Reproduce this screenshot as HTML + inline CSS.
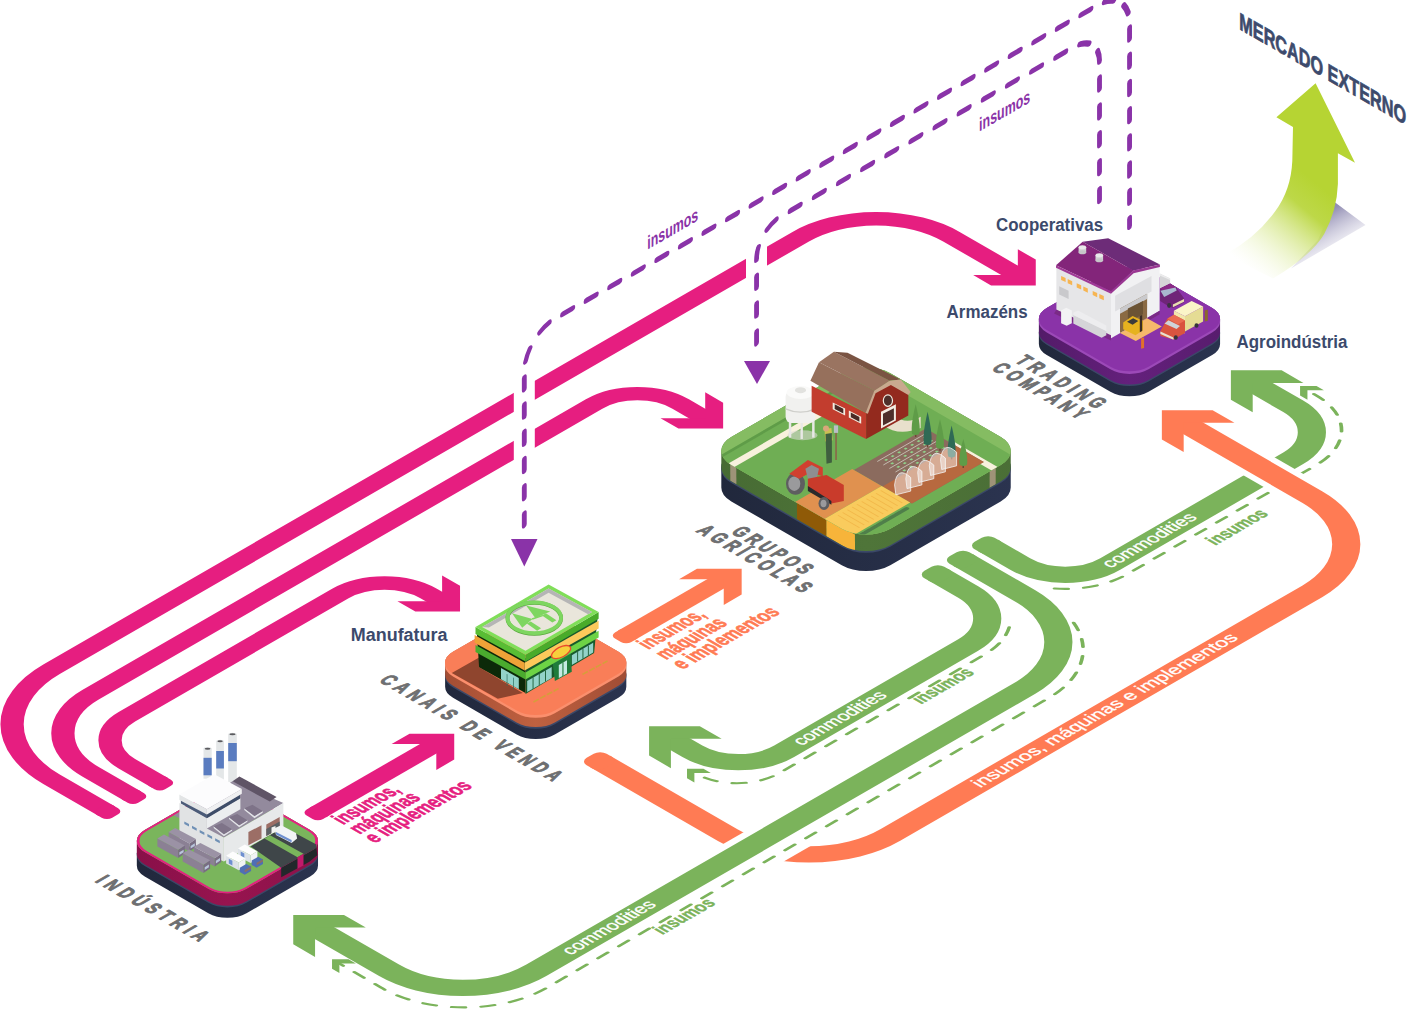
<!DOCTYPE html>
<html><head><meta charset="utf-8"><title>Cadeia</title>
<style>
html,body{margin:0;padding:0;background:#fff;}
body{width:1412px;height:1009px;position:relative;overflow:hidden;font-family:"Liberation Sans",sans-serif;}
text{font-family:"Liberation Sans",sans-serif;}
</style></head><body>
<svg width="1412" height="1009" viewBox="0 0 1412 1009" style="position:absolute;left:0;top:0">
<g transform="matrix(0.8660254 0.5 -0.8660254 0.5 0 0)">
<path d="M 873 749.5 L 809 749.5 A 110 110 0 0 1 699 639.5 L 699 -225.60000000000002 A 87 87 0 0 1 786 -312.6 L 866 -312.6" fill="none" stroke="#e61e80" stroke-width="19" stroke-linecap="butt"/>
<rect x="864.9" y="740.0" width="17.6" height="19.0" rx="6.1" fill="#e61e80"/>
<polygon points="0.0,0.0 -25.8,-25.8 -46.5,-25.8 -20.7,0.0 -46.5,25.8 -25.8,25.8" fill="#e61e80" transform="translate(883.4 -312.6) rotate(0)"/>
<path d="M 873 719.5 L 824 719.5 A 77 77 0 0 1 747 642.5 L 747 61 A 50 50 0 0 1 797 11 L 826.8 11" fill="none" stroke="#e61e80" stroke-width="19" stroke-linecap="butt"/>
<rect x="864.9" y="710.0" width="17.6" height="19.0" rx="6.1" fill="#e61e80"/>
<polygon points="0.0,0.0 -25.8,-25.8 -46.5,-25.8 -20.7,0.0 -46.5,25.8 -25.8,25.8" fill="#e61e80" transform="translate(846.0 11.0) rotate(0)"/>
<path d="M 875 690.5 L 837 690.5 A 47 47 0 0 1 790 643.5 L 790 397 A 51 51 0 0 1 841 346 L 859 346" fill="none" stroke="#e61e80" stroke-width="19" stroke-linecap="butt"/>
<rect x="866.9" y="681.0" width="17.6" height="19.0" rx="6.1" fill="#e61e80"/>
<polygon points="0.0,0.0 -25.8,-25.8 -46.5,-25.8 -20.7,0.0 -46.5,25.8 -25.8,25.8" fill="#e61e80" transform="translate(877.2 346.0) rotate(0)"/>
<path d="M 996 629 L 996 490" fill="none" stroke="#e61e80" stroke-width="19" stroke-linecap="butt"/>
<rect x="986.5" y="620.9" width="19.0" height="17.6" rx="6.1" fill="#e61e80"/>
<polygon points="0.0,0.0 -25.8,-25.8 -46.5,-25.8 -20.7,0.0 -46.5,25.8 -25.8,25.8" fill="#e61e80" transform="translate(996.0 471.5) rotate(270)"/>
<path d="M 997 274 L 997 159" fill="none" stroke="#ff7b54" stroke-width="19" stroke-linecap="butt"/>
<rect x="987.5" y="265.9" width="19.0" height="17.6" rx="6.1" fill="#ff7b54"/>
<polygon points="0.0,0.0 -25.8,-25.8 -46.5,-25.8 -20.7,0.0 -46.5,25.8 -25.8,25.8" fill="#ff7b54" transform="translate(997.0 140.6) rotate(270)"/>
<path d="M 1116 -25 L 1153 -25 A 52 52 0 0 0 1205 -77 L 1205 -288.3 A 52 52 0 0 0 1153 -340.3 L 1103 -340.3" fill="none" stroke="#7bb35b" stroke-width="23" stroke-linecap="butt"/>
<rect x="1104.5" y="-36.5" width="20.9" height="23.0" rx="7.4" fill="#7bb35b"/>
<polygon points="0.0,0.0 -29.3,-29.3 -54.5,-29.3 -25.2,0.0 -54.5,29.3 -29.3,29.3" fill="#7bb35b" transform="translate(1081.0 -340.3) rotate(180)"/>
<path d="M 1197.3 -20.3 A 72 72 0 0 0 1225 -77 L 1225 -295.5 A 69 69 0 0 0 1156 -364.5 L 1146 -364.5" fill="none" stroke="#7bb35b" stroke-width="3" stroke-linecap="round" stroke-dasharray="11.3 12.7" stroke-dashoffset="0"/>
<polygon points="0.0,0.0 -9.5,-9.5 -18.0,-9.5 -8.5,0.0 -18.0,9.5 -9.5,9.5" fill="#7bb35b" transform="translate(1136.7 -364.5) rotate(180)"/>
<path d="M 1170 -260.6 L 1255 -260.6" fill="none" stroke="#fff" stroke-width="36" stroke-linecap="butt"/>
<path d="M 1108 415 L 1255 415 A 94 94 0 0 0 1349 321 L 1349 -166.60000000000002 A 94 94 0 0 0 1255 -260.6 L 1103 -260.6" fill="none" stroke="#ff7b54" stroke-width="23" stroke-linecap="butt"/>
<rect x="1096.5" y="403.5" width="20.9" height="23.0" rx="7.4" fill="#ff7b54"/>
<polygon points="0.0,0.0 -29.3,-29.3 -54.5,-29.3 -25.2,0.0 -54.5,29.3 -29.3,29.3" fill="#ff7b54" transform="translate(1081.0 -260.6) rotate(180)"/>
<rect x="1261.5" y="365" width="52.5" height="70" fill="#fff"/>
<path d="M 1116 33 L 1151 33 A 53 53 0 0 1 1204 86 L 1204 298.5 A 53 53 0 0 1 1151 351.5 L 1123 351.5" fill="none" stroke="#7bb35b" stroke-width="23" stroke-linecap="butt"/>
<rect x="1104.5" y="21.5" width="20.9" height="23.0" rx="7.4" fill="#7bb35b"/>
<polygon points="0.0,0.0 -29.3,-29.3 -54.5,-29.3 -25.2,0.0 -54.5,29.3 -29.3,29.3" fill="#7bb35b" transform="translate(1101.0 351.5) rotate(180)"/>
<path d="M 1210.0 44.7 A 72 72 0 0 1 1223 86 L 1223 323.1 A 49 49 0 0 1 1174 372.1 L 1174.5 372.1" fill="none" stroke="#7bb35b" stroke-width="3" stroke-linecap="round" stroke-dasharray="11.3 12.7" stroke-dashoffset="0"/>
<polygon points="0.0,0.0 -9.5,-9.5 -18.0,-9.5 -8.5,0.0 -18.0,9.5 -9.5,9.5" fill="#7bb35b" transform="translate(1165.4 372.1) rotate(180)"/>
<path d="M 1116 4 L 1188 4 A 92 92 0 0 1 1280 96 L 1280 660.7 A 85 85 0 0 1 1195 745.7 L 1106.6 745.7" fill="none" stroke="#7bb35b" stroke-width="23" stroke-linecap="butt"/>
<rect x="1104.5" y="-7.5" width="20.9" height="23.0" rx="7.4" fill="#7bb35b"/>
<polygon points="0.0,0.0 -29.3,-29.3 -54.5,-29.3 -25.2,0.0 -54.5,29.3 -29.3,29.3" fill="#7bb35b" transform="translate(1084.3 745.7) rotate(180)"/>
<path d="M 1242.6 2.9 A 97.3 97.3 0 0 1 1303.5 93.1 L 1303.5 671.6 A 96 96 0 0 1 1207.5 767.6 L 1160 767.6" fill="none" stroke="#7bb35b" stroke-width="3" stroke-linecap="round" stroke-dasharray="11.3 12.7" stroke-dashoffset="0"/>
<polygon points="0.0,0.0 -9.5,-9.5 -18.0,-9.5 -8.5,0.0 -18.0,9.5 -9.5,9.5" fill="#7bb35b" transform="translate(1151.0 767.6) rotate(180)"/>
<text transform="translate(935.8 827.0) rotate(0) scale(0.7 1)" font-size="21" fill="#6e6f71" font-weight="bold" text-anchor="start" stroke="#6e6f71" stroke-width="1.2" stroke-linejoin="round" textLength="172.9" lengthAdjust="spacing">INDÚSTRIA</text>
<text transform="translate(899.4 462.5) rotate(0) scale(0.7 1)" font-size="21" fill="#6e6f71" font-weight="bold" text-anchor="start" stroke="#6e6f71" stroke-width="1.2" stroke-linejoin="round" textLength="287.1" lengthAdjust="spacing">CANAIS DE VENDA</text>
<text transform="translate(954.1 111.0) rotate(0) scale(0.7 1)" font-size="21" fill="#6e6f71" font-weight="bold" text-anchor="start" stroke="#6e6f71" stroke-width="1.2" stroke-linejoin="round" textLength="120.0" lengthAdjust="spacing">GRUPOS</text>
<text transform="translate(932.7 130.0) rotate(0) scale(0.7 1)" font-size="21" fill="#6e6f71" font-weight="bold" text-anchor="start" stroke="#6e6f71" stroke-width="1.2" stroke-linejoin="round" textLength="176.4" lengthAdjust="spacing">AGRÍCOLAS</text>
<text transform="translate(946.8 -224.0) rotate(0) scale(0.7 1)" font-size="21" fill="#6e6f71" font-weight="bold" text-anchor="start" stroke="#6e6f71" stroke-width="1.2" stroke-linejoin="round" textLength="135.7" lengthAdjust="spacing">TRADING</text>
<text transform="translate(940.9 -203.0) rotate(0) scale(0.7 1)" font-size="21" fill="#6e6f71" font-weight="bold" text-anchor="start" stroke="#6e6f71" stroke-width="1.2" stroke-linejoin="round" textLength="144.3" lengthAdjust="spacing">COMPANY</text>
<text transform="translate(1023.0 627.0) rotate(-90)" font-size="22" fill="#e61e80" font-weight="bold" text-anchor="start" stroke="#e61e80" stroke-width="0.7" stroke-linejoin="round" textLength="68.0" lengthAdjust="spacingAndGlyphs">insumos,</text>
<text transform="translate(1042.0 627.0) rotate(-90)" font-size="22" fill="#e61e80" font-weight="bold" text-anchor="start" stroke="#e61e80" stroke-width="0.7" stroke-linejoin="round" textLength="72.0" lengthAdjust="spacingAndGlyphs">máquinas</text>
<text transform="translate(1060.0 627.0) rotate(-90)" font-size="22" fill="#e61e80" font-weight="bold" text-anchor="start" stroke="#e61e80" stroke-width="0.7" stroke-linejoin="round" textLength="113.5" lengthAdjust="spacingAndGlyphs">e implementos</text>
<text transform="translate(1024.0 275.5) rotate(-90)" font-size="22" fill="#ff7b54" font-weight="bold" text-anchor="start" stroke="#ff7b54" stroke-width="0.7" stroke-linejoin="round" textLength="68.0" lengthAdjust="spacingAndGlyphs">insumos,</text>
<text transform="translate(1044.5 275.5) rotate(-90)" font-size="22" fill="#ff7b54" font-weight="bold" text-anchor="start" stroke="#ff7b54" stroke-width="0.7" stroke-linejoin="round" textLength="72.0" lengthAdjust="spacingAndGlyphs">máquinas</text>
<text transform="translate(1064.0 275.5) rotate(-90)" font-size="22" fill="#ff7b54" font-weight="bold" text-anchor="start" stroke="#ff7b54" stroke-width="0.7" stroke-linejoin="round" textLength="113.5" lengthAdjust="spacingAndGlyphs">e implementos</text>
<text transform="translate(1208.8 283.4) rotate(-90)" font-size="18" fill="#fff" font-weight="normal" text-anchor="start" stroke="#fff" stroke-width="0.35" stroke-linejoin="round" textLength="100.0" lengthAdjust="spacingAndGlyphs">commodities</text>
<text transform="translate(1284.8 626.0) rotate(-90)" font-size="18" fill="#fff" font-weight="normal" text-anchor="start" stroke="#fff" stroke-width="0.35" stroke-linejoin="round" textLength="100.0" lengthAdjust="spacingAndGlyphs">commodities</text>
<text transform="translate(1209.8 -72.6) rotate(-90)" font-size="18" fill="#fff" font-weight="normal" text-anchor="start" stroke="#fff" stroke-width="0.35" stroke-linejoin="round" textLength="101.0" lengthAdjust="spacingAndGlyphs">commodities</text>
<text transform="translate(1353.8 222.0) rotate(-90)" font-size="18" fill="#fff" font-weight="normal" text-anchor="start" stroke="#fff" stroke-width="0.35" stroke-linejoin="round" textLength="299.0" lengthAdjust="spacingAndGlyphs">insumos, máquinas e implementos</text>
<text transform="translate(1236.3 172.7) rotate(-90)" font-size="19" fill="#7bb35b" font-weight="bold" text-anchor="start" stroke="#7bb35b" stroke-width="0.5" stroke-linejoin="round" textLength="62.5" lengthAdjust="spacingAndGlyphs">insumos</text>
<text transform="translate(1317.5 552.7) rotate(-90)" font-size="19" fill="#7bb35b" font-weight="bold" text-anchor="start" stroke="#7bb35b" stroke-width="0.5" stroke-linejoin="round" textLength="62.5" lengthAdjust="spacingAndGlyphs">insumos</text>
<text transform="translate(1247.3 -156.0) rotate(-90)" font-size="19" fill="#7bb35b" font-weight="bold" text-anchor="start" stroke="#7bb35b" stroke-width="0.5" stroke-linejoin="round" textLength="62.5" lengthAdjust="spacingAndGlyphs">insumos</text>
<defs><linearGradient id="g1n" gradientUnits="userSpaceOnUse" x1="913.5" y1="768.5" x2="1031.0" y2="651.0"><stop offset="0.00" stop-color="#20273b"/><stop offset="1.00" stop-color="#2b3450"/></linearGradient><linearGradient id="g1s" gradientUnits="userSpaceOnUse" x1="913.5" y1="768.5" x2="1031.0" y2="651.0"><stop offset="0.00" stop-color="#870f48"/><stop offset="0.50" stop-color="#97144f"/><stop offset="1.00" stop-color="#8c1149"/></linearGradient></defs>
<path d="M 926.05 685.45 A 22 22 0 0 1 948.05 663.45 L 1021.55 663.45 A 22 22 0 0 1 1037.11 669.89 L 1049.11 681.89 A 22 22 0 0 1 1055.55 697.45 L 1055.55 770.95 A 22 22 0 0 1 1033.55 792.95 L 960.05 792.95 A 22 22 0 0 1 944.49 786.51 L 932.49 774.51 A 22 22 0 0 1 926.05 758.95 Z" fill="url(#g1n)"/>
<path d="M 926.05 685.45 A 22 22 0 0 1 948.05 663.45 L 1021.55 663.45 A 22 22 0 0 1 1037.11 669.89 L 1038.71 671.49 A 22 22 0 0 1 1045.15 687.05 L 1045.15 760.55 A 22 22 0 0 1 1023.15 782.55 L 949.65 782.55 A 22 22 0 0 1 934.09 776.11 L 932.49 774.51 A 22 22 0 0 1 926.05 758.95 Z" fill="#3b4868"/>
<path d="M 913.55 672.95 A 22 22 0 0 1 935.55 650.95 L 1009.05 650.95 A 22 22 0 0 1 1024.61 657.39 L 1037.11 669.89 A 22 22 0 0 1 1043.55 685.45 L 1043.55 758.95 A 22 22 0 0 1 1021.55 780.95 L 948.05 780.95 A 22 22 0 0 1 932.49 774.51 L 919.99 762.01 A 22 22 0 0 1 913.55 746.45 Z" fill="url(#g1s)"/>
<rect x="913.55" y="650.95" width="117.50" height="117.50" rx="22" ry="22" fill="#7ab55c" />
<rect x="914.65" y="652.05" width="115.30" height="115.30" rx="20.9" ry="20.9" fill="none" stroke="#e61e80" stroke-width="2.2"/>
<defs><linearGradient id="g2n" gradientUnits="userSpaceOnUse" x1="913.4" y1="412.2" x2="1030.8" y2="294.8"><stop offset="0.00" stop-color="#20273b"/><stop offset="1.00" stop-color="#2b3450"/></linearGradient><linearGradient id="g2s" gradientUnits="userSpaceOnUse" x1="913.4" y1="412.2" x2="1030.8" y2="294.8"><stop offset="0.00" stop-color="#a04b32"/><stop offset="0.50" stop-color="#bf6140"/><stop offset="1.00" stop-color="#9c4a33"/></linearGradient></defs>
<path d="M 925.35 328.75 A 22 22 0 0 1 947.35 306.75 L 1020.85 306.75 A 22 22 0 0 1 1036.41 313.19 L 1048.41 325.19 A 22 22 0 0 1 1054.85 340.75 L 1054.85 414.25 A 22 22 0 0 1 1032.85 436.25 L 959.35 436.25 A 22 22 0 0 1 943.79 429.81 L 931.79 417.81 A 22 22 0 0 1 925.35 402.25 Z" fill="url(#g2n)"/>
<path d="M 925.35 328.75 A 22 22 0 0 1 947.35 306.75 L 1020.85 306.75 A 22 22 0 0 1 1036.41 313.19 L 1038.01 314.79 A 22 22 0 0 1 1044.45 330.35 L 1044.45 403.85 A 22 22 0 0 1 1022.45 425.85 L 948.95 425.85 A 22 22 0 0 1 933.39 419.41 L 931.79 417.81 A 22 22 0 0 1 925.35 402.25 Z" fill="#3b4868"/>
<path d="M 913.35 316.75 A 22 22 0 0 1 935.35 294.75 L 1008.85 294.75 A 22 22 0 0 1 1024.41 301.19 L 1036.41 313.19 A 22 22 0 0 1 1042.85 328.75 L 1042.85 402.25 A 22 22 0 0 1 1020.85 424.25 L 947.35 424.25 A 22 22 0 0 1 931.79 417.81 L 919.79 405.81 A 22 22 0 0 1 913.35 390.25 Z" fill="url(#g2s)"/>
<path d="M 913.35 316.75 A 22 22 0 0 1 935.35 294.75 L 1008.85 294.75 A 22 22 0 0 1 1024.41 301.19 L 1027.01 303.79 A 22 22 0 0 1 1033.45 319.35 L 1033.45 392.85 A 22 22 0 0 1 1011.45 414.85 L 937.95 414.85 A 22 22 0 0 1 922.39 408.41 L 919.79 405.81 A 22 22 0 0 1 913.35 390.25 Z" fill="#fb8f6d"/>
<rect x="913.35" y="294.75" width="117.50" height="117.50" rx="22" ry="22" fill="#f97e58" />
<defs><linearGradient id="g3n" gradientUnits="userSpaceOnUse" x1="912.4" y1="-274.4" x2="1029.8" y2="-391.9"><stop offset="0.00" stop-color="#20273b"/><stop offset="1.00" stop-color="#2b3450"/></linearGradient><linearGradient id="g3s" gradientUnits="userSpaceOnUse" x1="912.4" y1="-274.4" x2="1029.8" y2="-391.9"><stop offset="0.00" stop-color="#511a66"/><stop offset="0.50" stop-color="#64207c"/><stop offset="1.00" stop-color="#561c6c"/></linearGradient></defs>
<path d="M 925.55 -356.65 A 22 22 0 0 1 947.55 -378.65 L 1021.05 -378.65 A 22 22 0 0 1 1036.61 -372.21 L 1048.41 -360.41 A 22 22 0 0 1 1054.85 -344.85 L 1054.85 -271.35 A 22 22 0 0 1 1032.85 -249.35 L 959.35 -249.35 A 22 22 0 0 1 943.79 -255.79 L 931.99 -267.59 A 22 22 0 0 1 925.55 -283.15 Z" fill="url(#g3n)"/>
<path d="M 925.55 -356.65 A 22 22 0 0 1 947.55 -378.65 L 1021.05 -378.65 A 22 22 0 0 1 1036.61 -372.21 L 1038.21 -370.61 A 22 22 0 0 1 1044.65 -355.05 L 1044.65 -281.55 A 22 22 0 0 1 1022.65 -259.55 L 949.15 -259.55 A 22 22 0 0 1 933.59 -265.99 L 931.99 -267.59 A 22 22 0 0 1 925.55 -283.15 Z" fill="#3b4868"/>
<path d="M 912.35 -369.85 A 22 22 0 0 1 934.35 -391.85 L 1007.85 -391.85 A 22 22 0 0 1 1023.41 -385.41 L 1036.61 -372.21 A 22 22 0 0 1 1043.05 -356.65 L 1043.05 -283.15 A 22 22 0 0 1 1021.05 -261.15 L 947.55 -261.15 A 22 22 0 0 1 931.99 -267.59 L 918.79 -280.79 A 22 22 0 0 1 912.35 -296.35 Z" fill="url(#g3s)"/>
<path d="M 912.35 -369.85 A 22 22 0 0 1 934.35 -391.85 L 1007.85 -391.85 A 22 22 0 0 1 1023.41 -385.41 L 1026.01 -382.81 A 22 22 0 0 1 1032.45 -367.25 L 1032.45 -293.75 A 22 22 0 0 1 1010.45 -271.75 L 936.95 -271.75 A 22 22 0 0 1 921.39 -278.19 L 918.79 -280.79 A 22 22 0 0 1 912.35 -296.35 Z" fill="#9c49b8"/>
<rect x="912.35" y="-391.85" width="117.50" height="117.50" rx="22" ry="22" fill="#8a33a8" />
<defs><linearGradient id="g4n" gradientUnits="userSpaceOnUse" x1="859.2" y1="42.8" x2="1042.8" y2="-140.8"><stop offset="0.00" stop-color="#20273b"/><stop offset="1.00" stop-color="#2b3450"/></linearGradient><linearGradient id="g4s" gradientUnits="userSpaceOnUse" x1="859.2" y1="42.8" x2="1042.8" y2="-140.8"><stop offset="0.00" stop-color="#466a33"/><stop offset="0.50" stop-color="#4f7539"/><stop offset="1.00" stop-color="#4a6e36"/></linearGradient></defs>
<path d="M 875.75 -96.25 A 28 28 0 0 1 903.75 -124.25 L 1031.25 -124.25 A 28 28 0 0 1 1051.05 -116.05 L 1071.05 -96.05 A 28 28 0 0 1 1079.25 -76.25 L 1079.25 51.25 A 28 28 0 0 1 1051.25 79.25 L 923.75 79.25 A 28 28 0 0 1 903.95 71.05 L 883.95 51.05 A 28 28 0 0 1 875.75 31.25 Z" fill="url(#g4n)"/>
<path d="M 875.75 -96.25 A 28 28 0 0 1 903.75 -124.25 L 1031.25 -124.25 A 28 28 0 0 1 1051.05 -116.05 L 1052.65 -114.45 A 28 28 0 0 1 1060.85 -94.65 L 1060.85 32.85 A 28 28 0 0 1 1032.85 60.85 L 905.35 60.85 A 28 28 0 0 1 885.55 52.65 L 883.95 51.05 A 28 28 0 0 1 875.75 31.25 Z" fill="#3b4868"/>
<path d="M 859.25 -112.75 A 28 28 0 0 1 887.25 -140.75 L 1014.75 -140.75 A 28 28 0 0 1 1034.55 -132.55 L 1051.05 -116.05 A 28 28 0 0 1 1059.25 -96.25 L 1059.25 31.25 A 28 28 0 0 1 1031.25 59.25 L 903.75 59.25 A 28 28 0 0 1 883.95 51.05 L 867.45 34.55 A 28 28 0 0 1 859.25 14.75 Z" fill="url(#g4s)"/>
<rect x="859.25" y="-140.75" width="183.50" height="183.50" rx="28" ry="28" fill="#82ba60" />
<defs><clipPath id="gtop"><rect x="859.25" y="-140.75" width="183.50" height="183.50" rx="28" ry="28" /></clipPath><clipPath id="gside"><path d="M 859.25 -112.75 A 28 28 0 0 1 887.25 -140.75 L 1014.75 -140.75 A 28 28 0 0 1 1034.55 -132.55 L 1051.05 -116.05 A 28 28 0 0 1 1059.25 -96.25 L 1059.25 31.25 A 28 28 0 0 1 1031.25 59.25 L 903.75 59.25 A 28 28 0 0 1 883.95 51.05 L 867.45 34.55 A 28 28 0 0 1 859.25 14.75 Z"/></clipPath></defs>
<g clip-path="url(#gside)">
<polygon points="884.0,40.8 891.0,40.8 909.5,59.2 902.5,59.2" fill="#9e9378"/>
<polygon points="961.0,40.8 995.0,40.8 1013.5,59.2 979.5,59.2" fill="#8f5a07"/>
<polygon points="995.0,40.8 1028.0,40.8 1046.5,59.2 1013.5,59.2" fill="#f7b43a"/>
<polygon points="1040.8,-109.0 1040.8,-102.0 1059.2,-83.5 1059.2,-90.5" fill="#9e9378"/>
</g>
<rect x="859.25" y="-140.75" width="183.50" height="183.50" rx="28" ry="28" fill="#85bc62"/>
<g clip-path="url(#gtop)">
<rect x="871.2" y="-128.8" width="183.5" height="183.5" rx="20" fill="#6fae54"/>
<path d="M 872.8 -100.8 L 872.8 42.8" stroke="#5f9c48" stroke-width="3" fill="none"/>
<rect x="884" y="-75" width="7" height="125" fill="#f8f1dd"/>
<rect x="990" y="-109" width="60" height="7" fill="#f8f1dd"/>
<rect x="963" y="-106" width="67" height="83" fill="#8b6b5e"/>
<rect x="996" y="-106" width="34" height="83" fill="#b7693f"/>
<rect x="961" y="-23" width="34" height="70" fill="#e0914f"/>
<rect x="995" y="-23" width="33" height="70" fill="#f9cb5d"/>
<line x1="999" y1="-18.0" x2="1024" y2="-18.0" stroke="#f2b84a" stroke-width="1"/>
<line x1="999" y1="-12.5" x2="1024" y2="-12.5" stroke="#f2b84a" stroke-width="1"/>
<line x1="999" y1="-7.0" x2="1024" y2="-7.0" stroke="#f2b84a" stroke-width="1"/>
<line x1="999" y1="-1.5" x2="1024" y2="-1.5" stroke="#f2b84a" stroke-width="1"/>
<line x1="999" y1="4.0" x2="1024" y2="4.0" stroke="#f2b84a" stroke-width="1"/>
<line x1="999" y1="9.5" x2="1024" y2="9.5" stroke="#f2b84a" stroke-width="1"/>
<line x1="999" y1="15.0" x2="1024" y2="15.0" stroke="#f2b84a" stroke-width="1"/>
<line x1="999" y1="20.5" x2="1024" y2="20.5" stroke="#f2b84a" stroke-width="1"/>
<line x1="999" y1="26.0" x2="1024" y2="26.0" stroke="#f2b84a" stroke-width="1"/>
<line x1="999" y1="31.5" x2="1024" y2="31.5" stroke="#f2b84a" stroke-width="1"/>
<line x1="968.0" y1="-100" x2="968.0" y2="-45" stroke="#c9c2b8" stroke-width="0.8"/>
<line x1="971.5" y1="-98" x2="971.5" y2="-47" stroke="#8fd08a" stroke-width="2.2" stroke-dasharray="2.5 5"/>
<line x1="975.0" y1="-100" x2="975.0" y2="-45" stroke="#c9c2b8" stroke-width="0.8"/>
<line x1="978.5" y1="-98" x2="978.5" y2="-47" stroke="#8fd08a" stroke-width="2.2" stroke-dasharray="2.5 5"/>
<line x1="982.0" y1="-100" x2="982.0" y2="-45" stroke="#c9c2b8" stroke-width="0.8"/>
<line x1="985.5" y1="-98" x2="985.5" y2="-47" stroke="#8fd08a" stroke-width="2.2" stroke-dasharray="2.5 5"/>
<line x1="989.0" y1="-100" x2="989.0" y2="-45" stroke="#c9c2b8" stroke-width="0.8"/>
<line x1="992.5" y1="-98" x2="992.5" y2="-47" stroke="#8fd08a" stroke-width="2.2" stroke-dasharray="2.5 5"/>
<line x1="1032" y1="-15" x2="1032" y2="40" stroke="#4f7f4a" stroke-width="4" stroke-dasharray="5 2" stroke-linecap="round"/>
</g>
</g>
<rect x="746" y="240" width="21" height="60" fill="#fff"/>
<rect x="513.8" y="370" width="21" height="110" fill="#fff"/>
<g transform="matrix(0.8660254 -0.5 0 1 0 0)">
<path d="M 1304.3 879 L 1304.3 675 A 36 36 0 0 0 1268.3 639 L 641.4 639 A 36 36 0 0 0 605.4 675 L 605.4 831.7" fill="none" stroke="#8a33a8" stroke-width="5.6" stroke-linecap="round" stroke-dasharray="11.9 15.3" stroke-dashoffset="3.05"/>
<path d="M 1269.6 846.8 L 1269.6 696 A 29 29 0 0 0 1240.6 667 L 902.6 667 A 29 29 0 0 0 873.6 696 L 873.6 783.8" fill="none" stroke="#8a33a8" stroke-width="5.6" stroke-linecap="round" stroke-dasharray="11.9 15.97" stroke-dashoffset="16.82"/>
<text x="747.4" y="623.5" font-size="19" font-weight="bold" fill="#8a33a8" textLength="58.9" lengthAdjust="spacingAndGlyphs">insumos</text>
<text x="1130.6" y="697" font-size="19" font-weight="bold" fill="#8a33a8" textLength="58.9" lengthAdjust="spacingAndGlyphs">insumos</text>
</g>
<polygon points="250.7,846.4 283.8,827.1 316.4,844.6 316.4,847.9 281.2,867.7" fill="#3f4649" />
<polygon points="281.2,867.7 316.4,847.9 317.3,855.3 309.4,861.7 281.2,877.3" fill="#22282b" />
<polygon points="264.5,838.4 270.0,835.2 303.5,853.8 297.5,857.3" fill="#7ab55c" />
<polygon points="297.5,857.3 303.5,853.8 303.5,865.4 297.5,868.7" fill="#c21a6b" />
<polygon points="203.5,748.7 211.7,748.7 211.7,778.7 203.5,778.7" fill="#e4e7e8" />
<polygon points="203.5,757.8 211.7,757.8 211.7,775.3 203.5,775.3" fill="#5a7cc0" />
<ellipse cx="207.6" cy="748.7" rx="4.1" ry="1.6" fill="#e4e7e8"/>
<ellipse cx="207.6" cy="748.7" rx="2.9" ry="1.0" fill="#5b5b5f"/>
<polygon points="216.2,741.3 223.9,741.3 223.9,779.9 216.2,779.9" fill="#e4e7e8" />
<polygon points="216.2,751.0 223.9,751.0 223.9,768.5 216.2,768.5" fill="#5a7cc0" />
<ellipse cx="220.1" cy="741.3" rx="3.9" ry="1.6" fill="#e4e7e8"/>
<ellipse cx="220.1" cy="741.3" rx="2.7" ry="1.0" fill="#5b5b5f"/>
<polygon points="228.2,734.3 236.8,734.3 236.8,782.1 228.2,782.1" fill="#e4e7e8" />
<polygon points="228.2,743.0 236.8,743.0 236.8,761.2 228.2,761.2" fill="#5a7cc0" />
<ellipse cx="232.5" cy="734.3" rx="4.3" ry="1.6" fill="#e4e7e8"/>
<ellipse cx="232.5" cy="734.3" rx="3.1" ry="1.0" fill="#5b5b5f"/>
<polygon points="233.0,781.0 283.4,803.1 223.9,837.6 173.5,815.6" fill="#938a9d" />
<polygon points="232.6,781.2 239.4,776.5 276.6,796.9 269.8,801.6" fill="#5f5466" />
<polygon points="244.3,808.2 254.5,816.1 262.7,811.1 262.7,812.7 254.5,818.2 244.3,810.0" fill="#e2e3e7" />
<polygon points="244.3,808.2 252.5,804.8 262.7,811.1 254.5,816.1" fill="#7e7388" />
<polygon points="229.0,817.3 239.2,825.2 247.4,820.2 247.4,821.8 239.2,827.2 229.0,819.1" fill="#e2e3e7" />
<polygon points="229.0,817.3 237.2,813.9 247.4,820.2 239.2,825.2" fill="#7e7388" />
<polygon points="213.7,826.3 223.9,834.2 232.1,829.3 232.1,830.8 223.9,836.3 213.7,828.1" fill="#e2e3e7" />
<polygon points="213.7,826.3 221.9,822.9 232.1,829.3 223.9,834.2" fill="#7e7388" />
<polygon points="223.9,837.6 283.4,803.1 283.4,826.9 223.9,861.4" fill="#e7e9ea" />
<polygon points="248.4,832 261.5,825.3 261.5,838.4 248.4,845.3" fill="#9c6e66"/>
<polygon points="266.3,824.5 279.7,817.1 279.7,828.5 266.3,836" fill="#9c6e66"/>
<polygon points="266.3,829 279.7,821.5 279.7,828.5 266.3,836" fill="#5b6064"/>
<polygon points="179.4,803.1 206.9,817.8 206.9,828.4 223.9,837.6 223.9,861.4 179.4,842.0" fill="#e1e3e4" />
<polygon points="206.9,817.8 240.4,798.3 240.4,809.3 206.9,828.6" fill="#eceeef" />
<polygon points="180.9,799.3 206.9,814.1 206.9,818.2 180.9,803.4" fill="#4b5b78" />
<polygon points="206.9,814.1 240.0,794.8 240.0,798.4 206.9,818.2" fill="#3e4d68" />
<polygon points="179.4,794.6 206.9,809.3 206.9,814.6 179.4,799.9" fill="#e3e5e6" />
<polygon points="206.9,809.3 241.8,788.9 241.8,793.7 206.9,814.6" fill="#eff0f1" />
<polygon points="179.4,794.6 214.3,774.2 241.8,788.9 206.9,809.3" fill="#fcfcfd" />
<polygon points="184.3,821.6 189.0,824.1 189.0,826.5 184.3,824.1" fill="#6f90b5" />
<polygon points="192.0,825.8 196.7,828.2 196.7,830.7 192.0,828.2" fill="#6f90b5" />
<polygon points="199.7,829.9 204.4,832.4 204.4,834.9 199.7,832.4" fill="#6f90b5" />
<polygon points="207.4,834.1 212.1,836.6 212.1,839.1 207.4,836.6" fill="#6f90b5" />
<polygon points="215.1,838.3 219.8,840.8 219.8,843.3 215.1,840.8" fill="#6f90b5" />
<polygon points="168.6,832.0 189.4,843.4 189.4,851.6 168.6,840.2" fill="#8b8094" />
<polygon points="189.4,843.4 195.9,839.0 195.9,847.1 189.4,851.6" fill="#786d82" />
<polygon points="168.6,832.0 175.1,828.1 195.9,839.0 189.4,843.4" fill="#9b92a5" />
<polygon points="190.6,846.0 194.8,843.3 194.8,846.0 190.6,848.6" fill="#b9c6dc" />
<polygon points="157.4,838.4 178.2,849.8 178.2,858.0 157.4,846.5" fill="#8b8094" />
<polygon points="178.2,849.8 184.8,845.4 184.8,853.5 178.2,858.0" fill="#786d82" />
<polygon points="157.4,838.4 164.0,834.5 184.8,845.4 178.2,849.8" fill="#9b92a5" />
<polygon points="179.4,852.3 183.6,849.7 183.6,852.3 179.4,855.0" fill="#b9c6dc" />
<polygon points="193.9,846.8 214.7,858.3 214.7,866.5 193.9,855.0" fill="#8b8094" />
<polygon points="214.7,858.3 221.2,853.8 221.2,862.0 214.7,866.5" fill="#786d82" />
<polygon points="193.9,846.8 200.4,843.0 221.2,853.8 214.7,858.3" fill="#9b92a5" />
<polygon points="215.9,860.8 220.0,858.1 220.0,860.8 215.9,863.5" fill="#b9c6dc" />
<polygon points="182.7,853.2 203.5,864.7 203.5,872.9 182.7,861.4" fill="#8b8094" />
<polygon points="203.5,864.7 210.1,860.2 210.1,868.4 203.5,872.9" fill="#786d82" />
<polygon points="182.7,853.2 189.2,849.4 210.1,860.2 203.5,864.7" fill="#9b92a5" />
<polygon points="204.7,867.2 208.9,864.5 208.9,867.2 204.7,869.9" fill="#b9c6dc" />
<polygon points="238.0,848.6 250.7,855.3 250.7,863.1 238.0,856.4" fill="#dde2e8" />
<polygon points="250.7,855.3 257.4,851.2 257.4,859.0 250.7,863.1" fill="#f1f3f5" />
<polygon points="238.0,848.6 244.7,844.5 257.4,851.2 250.7,855.3" fill="#fdfdfd" />
<polygon points="240.7,851.6 244.3,853.5 244.3,858.3 240.7,856.4" fill="#6e8fd0" />
<polygon points="251.7,860.5 258.1,856.8 263.0,859.5 263.0,864.0 256.6,867.7 251.7,865.0" fill="#4f6fb5" />
<polygon points="256.6,862.8 263.0,859.2 263.0,861.6 256.6,865.3" fill="#8a6d6a" />
<polygon points="226.1,855.8 238.8,862.5 238.8,870.2 226.1,863.5" fill="#dde2e8" />
<polygon points="238.8,862.5 245.5,858.3 245.5,866.2 238.8,870.2" fill="#f1f3f5" />
<polygon points="226.1,855.8 232.8,851.6 245.5,858.3 238.8,862.5" fill="#fdfdfd" />
<polygon points="228.8,858.7 232.4,860.7 232.4,865.4 228.8,863.5" fill="#6e8fd0" />
<polygon points="239.8,867.7 246.2,864.0 251.1,866.6 251.1,871.1 244.7,874.8 239.8,872.1" fill="#4f6fb5" />
<polygon points="244.7,869.9 251.1,866.3 251.1,868.7 244.7,872.4" fill="#8a6d6a" />
<polygon points="274.5,828.3 281.2,825.3 296.0,833.0 297.1,838.4 291.6,843.1 276.0,834.9" fill="#f2f4f6" />
<polygon points="276.0,832.0 291.6,839.9 291.6,842.4 276.0,834.5" fill="#6e8fd0" />
<polygon points="271.5,827.5 275.5,826.0 275.5,832.0 271.5,833.5" fill="#f4f4f2" />
<path d="M883.5 425.4 Q898.4 436.6 920.7 427.9 L920.7 416.7 Q905.8 425.4 894.6 415.5 Z" fill="#e8e0cc"/>
<ellipse cx="802.5" cy="435.3" rx="14.9" ry="5" fill="#d9d8d2" opacity="0.6"/>
<polygon points="788.8,416.7 791.3,416.7 791.3,437.6 788.8,437.6" fill="#e8e8e6" />
<polygon points="800.5,416.7 802.9,416.7 802.9,439.0 800.5,439.0" fill="#e8e8e6" />
<polygon points="812.1,416.7 814.6,416.7 814.6,437.6 812.1,437.6" fill="#e8e8e6" />
<rect x="785.6" y="390.7" width="29.7" height="32.2" rx="6" fill="#f1f1ef"/>
<ellipse cx="800.5" cy="392.5" rx="13.9" ry="6.5" fill="#fafaf9"/>
<ellipse cx="800.5" cy="390.2" rx="5.5" ry="3" fill="#e2e2df"/>
<path d="M785.6 408.8 Q800.5 415.5 815.3 408.8" stroke="#cfcfcb" stroke-width="1.3" fill="none"/>
<polygon points="811.6,385.8 866.1,413.0 866.1,439.0 811.6,411.8" fill="#c23d2e" />
<polygon points="866.1,413.0 873.6,392.0 889.7,384.0 908.3,393.2 908.3,415.5 866.1,439.0" fill="#932a1e" />
<polygon points="832.7,402.4 845.1,408.6 845.1,415.5 832.7,409.3" fill="#f3ede2" />
<polygon points="834.7,404.3 843.3,408.8 843.3,413.5 834.7,409.1" fill="#4a2a26" />
<polygon points="848.8,410.5 861.2,416.7 861.2,423.7 848.8,417.5" fill="#f3ede2" />
<polygon points="850.8,412.5 859.4,417.0 859.4,421.7 850.8,417.2" fill="#4a2a26" />
<polygon points="881.0,411.8 895.9,404.3 895.9,420.5 881.0,428.4" fill="#f3ede2" />
<polygon points="883.0,413.8 893.9,408.3 893.9,419.7 883.0,425.4" fill="#4e2f2a" />
<ellipse cx="887.9" cy="400.6" rx="4.6" ry="5.8" fill="#4e2f2a" stroke="#f3ede2" stroke-width="1.2"/>
<polygon points="810.4,380.8 819.0,362.2 874.8,390.7 866.1,413.0" fill="#96705c" />
<polygon points="819.0,362.2 833.9,351.8 889.7,380.8 874.8,390.7" fill="#9a7461" />
<polygon points="833.9,351.8 847.5,352.8 900.8,379.6 889.7,380.8" fill="#7a5443" />
<polygon points="889.7,380.8 900.8,379.6 910.7,392.0 908.3,394.9 890.9,385.0 875.6,393.2 867.9,413.8 865.6,413.0 874.3,390.7" fill="#c9a98f" />
<polygon points="824.5,429.1 831.4,427.9 832.7,440.3 825.2,441.5" fill="#c9c152" />
<polygon points="825.5,434.1 831.9,433.1 831.9,462.6 826.5,463.8" fill="#3f5f3f" />
<ellipse cx="826.0" cy="428.6" rx="3" ry="3" fill="#d9a77a"/>
<polygon points="835.2,427.9 836.9,427.9 836.9,460.1 835.2,460.1" fill="#8a6a4a" />
<polygon points="833.9,425.4 838.1,425.4 838.1,432.9 833.9,432.9" fill="#b9bec6" />
<ellipse cx="795.5" cy="483.7" rx="9.5" ry="11" fill="#5e5e60"/>
<ellipse cx="794.3" cy="483.7" rx="6" ry="7.2" fill="#9a9a9c"/>
<polygon points="789.3,473.7 807.9,460.1 822.8,467.5 822.8,476.2 810.4,472.5 799.2,478.7" fill="#d1402f" />
<polygon points="805.4,468.8 811.6,465.1 819.0,468.8 816.6,478.7 807.9,478.7" fill="#8e8e90" />
<polygon points="807.9,478.7 826.5,475.0 843.8,484.9 843.8,501.0 831.4,503.5 807.9,488.6" fill="#c93b2b" />
<polygon points="807.9,486.1 831.4,501.0 831.4,504.7 807.9,491.1" fill="#2a2a2c" />
<ellipse cx="824.0" cy="503.5" rx="5.5" ry="6.5" fill="#5e5e60"/>
<ellipse cx="823.5" cy="503.5" rx="3" ry="3.8" fill="#9a9a9c"/>
<polygon points="915.0,430.4 916.4,430.4 916.4,437.1 915.0,437.1" fill="#6b4a34" />
<path d="M915.7 404.3 Q921.2 426.7 919.2 434.1 Q915.7 436.1 912.2 434.1 Q910.2 426.7 915.7 404.3 Z" fill="#5f9c48"/>
<polygon points="926.9,440.3 928.3,440.3 928.3,447.0 926.9,447.0" fill="#6b4a34" />
<path d="M927.6 411.8 Q933.0 435.9 931.1 444.0 Q927.6 446.0 924.1 444.0 Q922.1 435.9 927.6 411.8 Z" fill="#2f6a55"/>
<polygon points="939.2,444.0 940.7,444.0 940.7,450.7 939.2,450.7" fill="#6b4a34" />
<path d="M940.0 419.2 Q945.4 440.6 943.5 447.7 Q940.0 449.7 936.5 447.7 Q934.5 440.6 940.0 419.2 Z" fill="#5f9c48"/>
<polygon points="950.9,452.7 952.4,452.7 952.4,459.4 950.9,459.4" fill="#6b4a34" />
<path d="M951.6 425.4 Q957.1 448.6 955.1 456.4 Q951.6 458.4 948.2 456.4 Q946.2 448.6 951.6 425.4 Z" fill="#2f6a55"/>
<polygon points="962.5,461.4 964.0,461.4 964.0,468.0 962.5,468.0" fill="#6b4a34" />
<path d="M963.3 439.0 Q968.7 458.6 966.8 465.1 Q963.3 467.1 959.8 465.1 Q957.8 458.6 963.3 439.0 Z" fill="#5f9c48"/>
<path d="M894.6 484.9 Q897.1 465.1 910.7 477.5 L910.7 491.1 L895.9 494.8 Z" fill="#ffffff" fill-opacity="0.45" stroke="#f4f4f4" stroke-width="0.8"/>
<path d="M905.8 478.7 Q908.3 458.9 921.9 471.3 L921.9 484.9 L907.0 488.6 Z" fill="#ffffff" fill-opacity="0.45" stroke="#f4f4f4" stroke-width="0.8"/>
<path d="M917.7 472.5 Q920.2 452.7 933.8 465.1 L933.8 478.7 L918.9 482.4 Z" fill="#ffffff" fill-opacity="0.45" stroke="#f4f4f4" stroke-width="0.8"/>
<path d="M929.3 465.6 Q931.8 445.7 945.4 458.1 L945.4 471.8 L930.6 475.5 Z" fill="#ffffff" fill-opacity="0.45" stroke="#f4f4f4" stroke-width="0.8"/>
<path d="M940.5 459.6 Q943.0 439.8 956.6 452.2 L956.6 465.8 L941.7 469.5 Z" fill="#ffffff" fill-opacity="0.45" stroke="#f4f4f4" stroke-width="0.8"/>
<polygon points="1159.7,273.5 1170.1,278.4 1170.1,283.9 1159.7,288.8" fill="#d6d6d8" />
<polygon points="1159.7,273.5 1170.1,278.4 1170.1,280.1 1159.7,275.4" fill="#ebebec" />
<polygon points="1160.1,288.5 1170.1,283.6 1176.0,287.2 1184.0,298.3 1184.0,302.5 1172.9,308.0 1167.0,305.2 1160.1,301.1" fill="#6f2478" />
<polygon points="1160.1,288.5 1170.1,283.6 1176.4,287.6 1166.3,292.4" fill="#8a2a86" />
<polygon points="1160.4,290.7 1175.5,287.6 1176.7,290.5 1164.2,296.9" fill="#a9b6cf" />
<polygon points="1172.9,304.6 1184.0,299.0 1184.0,301.8 1172.9,307.3" fill="#e9ddb0" />
<ellipse cx="1169.1" cy="305.5" rx="2" ry="2.4" fill="#3a3340"/>
<polygon points="1056.4,267.1 1111.0,293.1 1111.0,338.3 1056.4,312.3" fill="#e6e6e8" />
<polygon points="1056.4,309.6 1111.0,335.3 1111.0,340.5 1054.1,313.6" fill="#7a2a86" />
<polygon points="1111.0,293.1 1133.2,270.5 1159.6,265.2 1159.6,310.8 1111.0,338.3" fill="#f1f1f3" />
<polygon points="1147.7,317.9 1159.6,310.8 1159.6,314.2 1147.7,321.3" fill="#7a2a86" />
<polygon points="1115.1,295.7 1151.5,276.1 1151.5,291.6 1115.1,311.5" fill="#dfdfe2" />
<polygon points="1120.0,308.5 1147.1,293.8 1147.1,317.9 1120.0,333.0" fill="#8a6a43" />
<polygon points="1120.0,308.5 1147.1,293.8 1147.1,299.1 1120.0,313.8" fill="#c9c9cc" />
<polygon points="1127.9,308.5 1143.0,301.0 1143.0,314.2 1127.9,322.6" fill="#6b5334" />
<polygon points="1120.0,333.0 1147.1,318.3 1161.8,326.4 1135.8,340.9" fill="#f6b96b" />
<polygon points="1123.2,322.6 1132.6,316.0 1143.0,320.8 1143.0,330.2 1135.5,335.3 1123.2,329.2" fill="#e6b21f" />
<polygon points="1127.0,321.7 1133.2,318.3 1138.3,321.1 1132.6,324.7" fill="#3b3b3b" />
<polygon points="1139.8,316.0 1142.2,315.1 1142.2,331.1 1139.8,332.2" fill="#3a2c24" />
<polygon points="1082.7,241.8 1108.2,238.3 1159.9,264.4 1133.2,270.5" fill="#6d2c78" />
<polygon points="1056.0,265.2 1082.7,241.8 1133.2,270.5 1111.0,291.2" fill="#83257a" />
<polygon points="1056.0,265.2 1111.0,291.2 1111.0,293.8 1056.0,267.8" fill="#a03a96" />
<polygon points="1111.0,291.2 1133.2,270.5 1159.9,264.4 1159.9,267.1 1133.6,273.3 1111.0,293.8" fill="#9a3792" />
<rect x="1078.6" y="247.2" width="7.6" height="5" fill="#d2d2d4"/>
<ellipse cx="1082.4" cy="247.2" rx="3.8" ry="2" fill="#e9e9ea"/>
<ellipse cx="1082.4" cy="252.2" rx="3.8" ry="2" fill="#c6c6c9"/>
<rect x="1095.5" y="255.3" width="7.6" height="5" fill="#d2d2d4"/>
<ellipse cx="1099.3" cy="255.3" rx="3.8" ry="2" fill="#e9e9ea"/>
<ellipse cx="1099.3" cy="260.3" rx="3.8" ry="2" fill="#c6c6c9"/>
<polygon points="1061.1,275.9 1065.6,278.0 1065.6,282.1 1061.1,280.1" fill="#f6b552" />
<polygon points="1067.7,279.1 1072.2,281.2 1072.2,285.3 1067.7,283.3" fill="#f6b552" />
<polygon points="1076.7,283.3 1081.2,285.3 1081.2,289.5 1076.7,287.4" fill="#f6b552" />
<polygon points="1083.3,286.5 1087.8,288.5 1087.8,292.7 1083.3,290.6" fill="#f6b552" />
<polygon points="1092.7,291.0 1097.2,293.1 1097.2,297.2 1092.7,295.1" fill="#f6b552" />
<polygon points="1099.3,294.0 1103.8,296.1 1103.8,300.2 1099.3,298.2" fill="#f6b552" />
<polygon points="1059.2,286.3 1068.6,290.8 1068.6,299.1 1059.2,294.6" fill="#c9c9cc" />
<polygon points="1061.1,310.4 1066.2,307.8 1071.8,310.4 1071.8,323.2 1066.7,325.8 1061.1,323.2" fill="#f3f3f4" />
<polygon points="1073.3,315.1 1106.3,331.1 1106.3,335.3 1101.6,337.7 1073.3,323.6" fill="#d5d5d8" />
<polygon points="1073.3,312.7 1078.0,310.4 1106.3,325.5 1106.3,331.1 1073.3,315.1" fill="#ededef" />
<polygon points="1173.9,310.7 1185.0,316.2 1185.0,333.6 1173.9,326.6" fill="#f1e8ac" />
<polygon points="1185.0,316.2 1203.1,306.5 1203.1,321.4 1185.0,331.5" fill="#e5dc94" />
<polygon points="1173.9,310.7 1191.6,300.9 1203.1,306.5 1185.0,316.2" fill="#fbf5c8" />
<polygon points="1160.4,331 1167.5,318.5 1174,314.8 1185,320.6 1185,333 1173.5,339.5 1160.4,336" fill="#d9543f"/>
<polygon points="1167.5,318.5 1174,314.8 1185,320.6 1178,324.5" fill="#e96c52"/>
<polygon points="1164.5,323.5 1168.5,320.2 1180,326 1176.5,329" fill="#cfd3d8"/>
<polygon points="1160.4,331.5 1173.5,337.5 1173.5,339.8 1160.4,334" fill="#e8e2d0"/>
<ellipse cx="1175.8" cy="337.5" rx="2" ry="2.3" fill="#35353a"/>
<ellipse cx="1196.5" cy="325.5" rx="2" ry="2.3" fill="#35353a"/>
<polygon points="1141.1,338.3 1144.1,337.5 1144.1,348.1 1141.1,348.8" fill="#e2712a" />
<polygon points="1204.8,310.4 1207.8,309.6 1207.8,320.8 1204.8,321.5" fill="#8a6a2a" />
<polygon points="451.8,673.1 479.1,657.4 479.1,667.2 522.8,693.1 497.8,698.8" fill="#8f452e" />
<line x1="533.5" y1="702.0" x2="558.5" y2="688.6" stroke="#d59f3a" stroke-width="1.6" stroke-dasharray="6 1.6"/>
<line x1="582.5" y1="674.4" x2="607.5" y2="661.0" stroke="#d59f3a" stroke-width="1.6" stroke-dasharray="6 1.6"/>
<polygon points="476.7,630.7 525.5,658.3 525.5,693.1 479.1,667.2" fill="#0c2a09" />
<polygon points="525.5,658.3 597.7,616.4 594.1,653.0 525.5,694.0" fill="#185a2c" />
<polygon points="501.0,668.1 518.8,677.9 518.8,689.2 501.0,679.2" fill="#93d3c9" />
<polygon points="527.2,681.0 551.7,666.9 551.7,677.9 527.2,692.0" fill="#93d3c9" />
<polygon points="571.8,655.3 593.2,642.8 593.2,652.4 571.8,664.9" fill="#93d3c9" />
<polygon points="506.7,673.9 507.4,674.3 507.4,685.9 506.7,685.5" fill="#2f6f5f" />
<polygon points="513.0,677.4 513.7,677.7 513.7,689.3 513.0,689.0" fill="#2f6f5f" />
<polygon points="532.6,677.9 533.5,677.3 533.5,688.4 532.6,688.9" fill="#1b5c35" />
<polygon points="538.8,674.3 539.7,673.7 539.7,684.8 538.8,685.3" fill="#1b5c35" />
<polygon points="545.1,670.7 546.0,670.1 546.0,681.2 545.1,681.7" fill="#1b5c35" />
<polygon points="577.2,652.2 578.1,651.7 578.1,661.3 577.2,661.8" fill="#1b5c35" />
<polygon points="582.5,649.1 583.4,648.6 583.4,658.2 582.5,658.7" fill="#1b5c35" />
<polygon points="587.9,646.0 588.8,645.5 588.8,655.1 587.9,655.7" fill="#1b5c35" />
<polygon points="552.7,663.1 570.6,653.0 571.8,671.7 554.9,681.0" fill="#1f7c3b" />
<polygon points="558.8,664.9 567.0,660.3 567.0,673.5 558.8,678.1" fill="#c4ebe3" />
<polygon points="562.4,662.8 563.5,662.2 563.5,675.6 562.4,676.2" fill="#1f7c3b" />
<polygon points="475.5,644.9 525.5,672.6 525.5,679.5 475.5,651.9" fill="#4aab2e" />
<polygon points="525.5,672.6 598.6,630.7 598.6,637.6 525.5,679.5" fill="#6dd345" />
<polygon points="474.6,635.1 524.6,662.8 524.6,670.4 474.6,642.8" fill="#eea238" />
<polygon points="524.6,662.8 598.6,620.8 598.6,628.5 524.6,670.4" fill="#fcc95b" />
<polygon points="475.5,627.1 525.5,654.7 525.5,661.5 475.5,633.9" fill="#58bd34" />
<polygon points="525.5,654.7 598.6,611.9 598.6,618.7 525.5,661.5" fill="#49ab2a" />
<polygon points="475.5,627.1 548.6,584.6 598.6,611.9 525.5,654.7" fill="#80de59" />
<polygon points="482.1,627.1 548.6,588.6 592.0,612.1 525.5,650.8" fill="#e9e6db" />
<polygon points="482.1,627.1 548.6,588.6 592.0,612.1 588.1,614.2 548.6,592.7 488.9,627.4" fill="#b5b5b5" />
<ellipse cx="534.3" cy="618.3" rx="26.8" ry="15.6" fill="none" stroke="#59a83c" stroke-width="3.9"/>
<ellipse cx="534.3" cy="617.7" rx="26.8" ry="15.4" fill="none" stroke="#7ed660" stroke-width="3.7"/>
<polygon points="512.0,613.3 522.2,627.8 532.5,618.9" fill="#7ed660" />
<polygon points="526.8,623.6 530.7,621.5 541.1,628.3 537.1,630.7" fill="#7ed660" />
<polygon points="526.1,605.5 535.3,617.9 550.2,611.6" fill="#7ed660" />
<polygon points="542.1,615.5 545.9,613.3 556.4,620.2 552.3,622.5" fill="#7ed660" />
<polygon points="531.8,618.3 542.8,614.7 542.8,616.2 532.5,619.7" fill="#7ed660" />
<ellipse cx="0" cy="0" rx="10.5" ry="5" transform="translate(561.1 652.1) rotate(-28)" fill="#f6d03c" stroke="#ea4a2e" stroke-width="1.3"/>
<polygon points="744,361 770,361 757,384" fill="#8a33a8"/>
<polygon points="511,539 537.5,539 524.3,566.5" fill="#8a33a8"/>
<text x="350.8" y="640.8" font-size="17.5" font-weight="bold" fill="#3c4a6c" textLength="96.7" lengthAdjust="spacingAndGlyphs">Manufatura</text>
<text x="996.1" y="231.4" font-size="17.5" font-weight="bold" fill="#3c4a6c" textLength="107" lengthAdjust="spacingAndGlyphs">Cooperativas</text>
<text x="946.6" y="317.6" font-size="17.5" font-weight="bold" fill="#3c4a6c" textLength="81" lengthAdjust="spacingAndGlyphs">Armazéns</text>
<text x="1236.5" y="348.3" font-size="17.5" font-weight="bold" fill="#3c4a6c" textLength="111" lengthAdjust="spacingAndGlyphs">Agroindústria</text>
<text transform="matrix(0.8660254 0.5 0 1 1239.3 29)" font-size="24" font-weight="bold" fill="#3c4a6c" stroke="#3c4a6c" stroke-width="0.8" textLength="192.5" lengthAdjust="spacingAndGlyphs">MERCADO EXTERNO</text>
<defs>
<linearGradient id="lime" gradientUnits="userSpaceOnUse" x1="1322" y1="188" x2="1252" y2="272"><stop offset="0" stop-color="#b6d433"/><stop offset="0.25" stop-color="#bdd848"/><stop offset="1" stop-color="#eef5cc" stop-opacity="0"/></linearGradient>
<linearGradient id="shad" gradientUnits="userSpaceOnUse" x1="1322" y1="215" x2="1345" y2="255"><stop offset="0" stop-color="#8d89b0" stop-opacity="0.95"/><stop offset="1" stop-color="#c9c6dc" stop-opacity="0"/></linearGradient>
</defs>
<polygon points="1334.5,202 1365.5,225 1291,268.5 1318,240" fill="url(#shad)"/>
<path d="M1315.6 83.2 L1276.4 117.2 L1293 127 L1292.3 161 Q1291 190 1275.2 211.3 Q1256 238 1225 254.6 L1273 278.6 Q1312 255 1324.2 234 Q1337 210 1337.9 184 L1337.9 153.2 L1355 162.8 Z" fill="url(#lime)"/>
</svg>
</body></html>
